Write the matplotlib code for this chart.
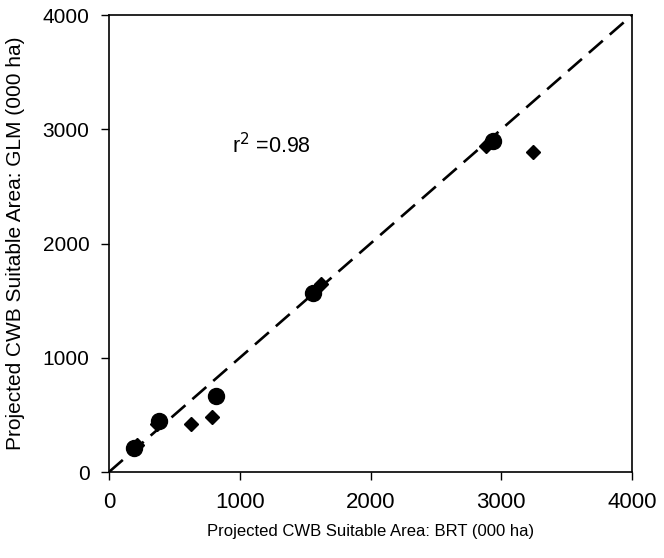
import matplotlib
matplotlib.use('Agg')
import matplotlib.pyplot as plt

plt.rcParams['font.family'] = ['Liberation Sans', 'DejaVu Sans']

# circles: BRT vs GLM
circle_brt = [195, 380, 815, 1560, 2935]
circle_glm = [215, 450, 670, 1565, 2895]
# diamonds
diamond_brt = [215, 365, 625, 790, 1620, 2880, 3245]
diamond_glm = [235, 425, 420, 480, 1645, 2850, 2800]

ticks = [0, 1000, 2000, 3000, 4000]

fig = plt.figure(figsize=(6.64, 5.58), dpi=100)
ax = fig.add_axes([0.164, 0.154, 0.788, 0.819])

ax.plot([0, 4000], [0, 4000], color='black', linestyle=(0, (7, 3.5)), linewidth=1.9, zorder=1)
ax.plot(diamond_brt, diamond_glm, linestyle='none', marker='D', markersize=7.5, color='black', zorder=2)
ax.plot(circle_brt, circle_glm, linestyle='none', marker='o', markersize=11.5, color='black', zorder=3)

ax.text(940, 2860, r'r$^2$ =0.98', fontsize=15.5, va='center', ha='left')

ax.set_xlim(0, 4000)
ax.set_ylim(0, 4000)
ax.set_xticks(ticks)
ax.set_yticks(ticks)
ax.tick_params(direction='out', length=6, width=1, pad=8)
ax.tick_params(axis='x', labelsize=16)
ax.tick_params(axis='y', labelsize=15)
for s in ax.spines.values():
    s.set_linewidth(1.2)

ax.set_xlabel('Projected CWB Suitable Area: BRT (000 ha)', fontsize=12)
ax.set_ylabel('Projected CWB Suitable Area: GLM (000 ha)', fontsize=15)
ax.xaxis.set_label_coords(0.5, -0.113)
ax.yaxis.set_label_coords(-0.161, 0.5)

fig.savefig('out.png', dpi=100)
plt.close(fig)
